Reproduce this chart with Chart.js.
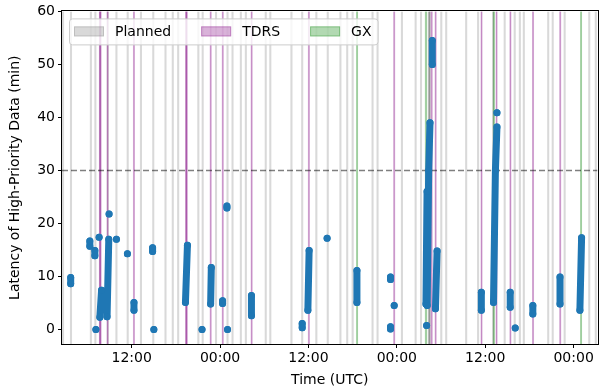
<!DOCTYPE html>
<html>
<head>
<meta charset="utf-8">
<script src="https://cdn.jsdelivr.net/npm/chart.js@4.4.1/dist/chart.umd.min.js"></script>
<style>
  html, body { margin: 0; padding: 0; background: #fff; }
</style>
</head>
<body>
<canvas id="latencyChart" width="601" height="392"></canvas>
<script>
// time axis is in hours counted from 00:00 of the first day
const xTicks = [12, 24, 36, 48, 60, 72];
const xTickLabels = ['12:00', '00:00', '12:00', '00:00', '12:00', '00:00'];
const yTicks = [0, 10, 20, 30, 40, 50, 60];
const latencyLimit = 30;

// contact windows [start, end] (hours)
const planned = [
    [2.55, 2.82], [3.62, 3.9], [6.32, 6.6], [6.93, 7.21], [8.62, 8.9], [9.79, 10.07],
    [11.32, 11.6], [13.12, 13.4], [14.79, 15.07], [16.45, 16.73], [17.44, 17.72], [18.17, 18.45],
    [20.91, 21.19], [21.5, 21.78], [23.31, 23.59], [24.87, 25.15], [25.55, 25.83], [26.68, 26.96],
    [27.36, 27.64], [30.06, 30.34], [30.68, 30.96], [33.55, 33.83], [35.01, 35.29], [36.93, 37.21],
    [38.48, 38.76], [40.2, 40.48], [41.12, 41.4], [41.86, 42.14], [44.56, 44.84], [45.24, 45.52],
    [48.55, 48.83], [50.41, 50.69], [51.14, 51.42], [52.25, 52.6], [52.3, 52.55], [52.3, 52.52],
    [52.32, 52.5], [52.34, 52.5], [53.89, 54.17],
    [54.56, 54.84], [57.27, 57.55], [58.89, 59.17], [60.95, 61.15], [61.0, 61.2], [62.5, 62.78],
    [63.86, 64.14], [64.56, 64.84], [65.1, 65.38], [68.41, 68.69], [69.02, 69.3], [70.64, 70.92],
    [73.98, 74.26], [74.87, 75.15]
];
const tdrs = [
    [7.62, 7.84], [7.66, 7.8], [8.66, 8.8], [12.24, 12.3], [19.33, 19.53], [19.36, 19.5],
    [22.66, 22.78], [24.3, 24.38], [28.22, 28.3], [35.99, 36.11], [47.57, 47.65], [52.64, 52.8],
    [53.2, 53.32], [59.43, 59.51], [61.47, 61.6], [63.35, 63.43], [66.42, 66.5], [70.11, 70.19]
];
const gx = [
    [42.53, 42.63], [51.87, 52.06], [61.1, 61.25], [72.94, 73.04]
];

// runs of high-priority packets: [hour, latency min] from first to last
const runs = [
    [[3.72, 8.6], [3.72, 9.8]],
    [[6.32, 15.7], [6.32, 16.7]],
    [[7.0, 13.9], [7.0, 14.9]],
    [[7.68, 2.3], [7.91, 7.4]],
    [[8.66, 2.4], [8.89, 17.0]],
    [[12.31, 3.6], [12.31, 5.1]],
    [[14.84, 14.7], [14.84, 15.4]],
    [[19.3, 5.1], [19.57, 15.9]],
    [[22.72, 4.8], [22.81, 11.7]],
    [[24.34, 4.9], [24.34, 5.4]],
    [[24.93, 22.9], [24.93, 23.3]],
    [[28.26, 2.6], [28.26, 6.4]],
    [[35.15, 0.3], [35.15, 1.1]],
    [[35.92, 3.6], [36.09, 14.9]],
    [[42.58, 5.1], [42.58, 11.1]],
    [[47.14, 9.4], [47.14, 9.9]],
    [[47.14, 0.1], [47.14, 0.5]],
    [[51.95, 4.8], [52.1, 26.0]],
    [[52.12, 4.5], [52.32, 30.0], [52.5, 39.0]],
    [[52.81, 50.0], [52.81, 54.5]],
    [[53.24, 3.9], [53.46, 14.8]],
    [[59.47, 3.6], [59.47, 7.0]],
    [[61.12, 5.1], [61.38, 30.0], [61.59, 38.2]],
    [[63.39, 4.2], [63.39, 7.0]],
    [[66.46, 2.9], [66.46, 4.5]],
    [[70.15, 4.8], [70.15, 9.9]],
    [[72.85, 3.6], [73.08, 17.3]]
];
const singles = [
    [7.14, 0.0], [7.58, 17.4], [8.93, 21.8], [9.93, 17.0], [11.42, 14.3], [15.01, 0.0],
    [21.55, 0.0], [25.01, 0.0], [38.53, 17.2], [47.64, 4.5], [52.04, 0.75], [61.59, 40.9],
    [64.07, 0.25]
];

const legendLabels = ['Planned', 'TDRS', 'GX'];
const bandColors = ['128,128,128', '128,0,128', '0,128,0'];

const xMin = 2.54, xMax = 75.24;
const yMin = -2.75, yMax = 60;

let points = [];
runs.forEach(r => {
    r.forEach(p => points.push({ x: p[0], y: p[1] }));
    points.push({ x: r[r.length - 1][0], y: null });
});
singles.forEach(p => {
    points.push({ x: p[0], y: p[1] });
    points.push({ x: p[0], y: null });
});

const FONT = 'DejaVu Sans';

const bandsPlugin = {
    id: 'bands',
    beforeDatasetsDraw(chart) {
        const { ctx, chartArea, scales } = chart;
        const groups = [planned, tdrs, gx];
        ctx.save();
        ctx.beginPath();
        ctx.rect(chartArea.left, chartArea.top, chartArea.right - chartArea.left, chartArea.bottom - chartArea.top);
        ctx.clip();
        groups.forEach((g, i) => {
            g.forEach(b => {
                const x0 = scales.x.getPixelForValue(b[0]);
                const x1 = scales.x.getPixelForValue(b[1]);
                const w = Math.max(x1 - x0, 1);
                ctx.fillStyle = 'rgba(' + bandColors[i] + ',0.3)';
                ctx.fillRect(x0, chartArea.top, w, chartArea.bottom - chartArea.top);
                if (i > 0) {
                    ctx.strokeStyle = 'rgba(' + bandColors[i] + ',0.25)';
                    ctx.lineWidth = 1;
                    ctx.strokeRect(x0, chartArea.top - 1, w, chartArea.bottom - chartArea.top + 2);
                }
            });
        });
        ctx.restore();
    },
    afterDraw(chart) {
        const { ctx, chartArea } = chart;
        ctx.save();
        // frame
        ctx.strokeStyle = '#000';
        ctx.lineWidth = 1;
        ctx.strokeRect(Math.round(chartArea.left) - 0.5, Math.round(chartArea.top) - 0.5,
            Math.round(chartArea.right - chartArea.left) + 1, Math.round(chartArea.bottom - chartArea.top) + 1);

        // legend
        ctx.font = '14px "' + FONT + '"';
        const bx = chartArea.left + 7, by = chartArea.top + 7, bh = 26;
        let x = bx + 5;
        const items = legendLabels.map(l => {
            const it = { label: l, px: x, tx: x + 30 + 11 };
            x = it.tx + ctx.measureText(l).width + 30;
            return it;
        });
        const bw = (x - 30 + 6) - bx;
        ctx.fillStyle = 'rgba(255,255,255,0.8)';
        ctx.strokeStyle = '#cccccc';
        ctx.beginPath();
        ctx.roundRect(bx + 0.5, by + 0.5, bw, bh, 3);
        ctx.fill();
        ctx.stroke();
        items.forEach((it, i) => {
            ctx.fillStyle = 'rgba(' + bandColors[i] + ',0.3)';
            ctx.fillRect(it.px, by + 8, 30, 10);
            ctx.strokeStyle = 'rgba(' + bandColors[i] + ',0.3)';
            ctx.strokeRect(it.px + 0.5, by + 8.5, 29, 9);
            ctx.fillStyle = '#000';
            ctx.textBaseline = 'middle';
            ctx.fillText(it.label, it.tx, by + 13.5);
        });
        ctx.restore();
    }
};

new Chart(document.getElementById('latencyChart'), {
    type: 'scatter',
    data: {
        datasets: [
            {
                label: 'Latency',
                data: points,
                showLine: true,
                spanGaps: false,
                borderColor: '#1f77b4',
                backgroundColor: '#1f77b4',
                borderWidth: 7,
                borderCapStyle: 'round',
                borderJoinStyle: 'round',
                pointRadius: 3.5,
                pointBorderWidth: 0,
                pointHoverRadius: 3.5
            },
            {
                type: 'line',
                label: 'Limit',
                data: [{ x: xMin, y: latencyLimit }, { x: xMax, y: latencyLimit }],
                borderColor: 'rgba(0,0,0,0.5)',
                borderWidth: 1.5,
                borderDash: [6, 3],
                pointRadius: 0,
                fill: false
            }
        ]
    },
    options: {
        responsive: false,
        animation: false,
        devicePixelRatio: 1,
        layout: { padding: { top: 9, right: 1, left: 0, bottom: 0 } },
        plugins: {
            legend: { display: false },
            tooltip: { enabled: false }
        },
        scales: {
            x: {
                type: 'linear',
                min: xMin,
                max: xMax,
                afterBuildTicks: axis => { axis.ticks = xTicks.map(v => ({ value: v })); },
                afterFit: axis => { axis.height = 48; },
                border: { display: false },
                grid: { display: true, drawOnChartArea: false, drawTicks: true, tickLength: 4, color: '#000' },
                ticks: {
                    color: '#000',
                    font: { family: FONT, size: 14 },
                    padding: 2,
                    maxRotation: 0,
                    autoSkip: false,
                    callback: (v, i) => xTickLabels[i]
                },
                title: { display: true, text: 'Time (UTC)', color: '#000', font: { family: FONT, size: 14 }, padding: { top: 0, bottom: 3 } }
            },
            y: {
                type: 'linear',
                min: yMin,
                max: yMax,
                afterBuildTicks: axis => { axis.ticks = yTicks.map(v => ({ value: v })); },
                afterFit: axis => { axis.width = 62; },
                border: { display: false },
                grid: { display: true, drawOnChartArea: false, drawTicks: true, tickLength: 4, color: '#000' },
                ticks: {
                    color: '#000',
                    font: { family: FONT, size: 14 },
                    padding: 3
                },
                title: { display: true, text: 'Latency of High-Priority Data (min)', color: '#000', font: { family: FONT, size: 14 }, padding: { top: 7, bottom: 0 } }
            }
        }
    },
    plugins: [bandsPlugin]
});
</script>
</body>
</html>
